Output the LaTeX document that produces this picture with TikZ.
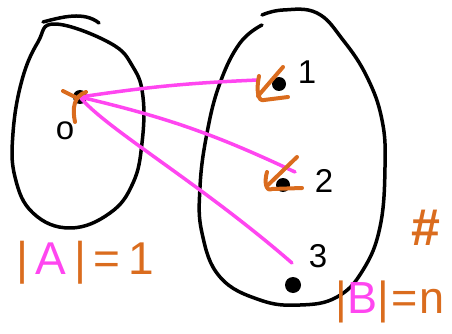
\documentclass[tikz,border=0pt]{standalone}
\usepackage{fontspec}
\setmainfont{Liberation Sans}
\definecolor{mag}{RGB}{255,70,240}
\definecolor{orng}{RGB}{218,108,30}

\begin{document}
\begin{tikzpicture}[
    x=1pt, y=-1pt,
    dot/.style={circle, fill=black, inner sep=0pt, minimum size=14pt},
    set/.style={line width=3.5pt, line cap=round, line join=round},
    map/.style={mag, line width=3.5pt, line cap=round},
    tick/.style={orng, line width=4pt, line cap=round, line join=round},
    lbl/.style={font=\fontsize{33}{33}\selectfont, inner sep=0pt},
    big/.style={inner sep=0pt}
]
    \useasboundingbox (0,0) rectangle (452,334);

    % the two sets
    \draw[set] plot[smooth cycle, tension=0.7] coordinates {
        (55,24) (110,43) (133,67) (143,97) (142,143) (133,183) (110,213)
        (70,228) (33,213) (15,177) (13,133) (22,80) (38,42)};
    \draw[set] (43,22) .. controls (62,17) and (84,11) .. (99,23);
    \draw[set] plot[smooth, tension=0.7] coordinates {
        (262,15) (283,10) (317,13) (343,40) (367,77) (382,120) (385,167)
        (380,227) (363,270) (337,297) (300,305) (260,300) (220,277)
        (202,233) (200,187) (207,133) (220,83) (240,43) (262,25)};

    % elements
    \node[dot] (a0) at (80,97) {};
    \node[dot] (b1) at (279,84) {};
    \node[dot] (b2) at (283,185) {};
    \node[dot, minimum size=16pt] (b3) at (293,285) {};

    \node[lbl] (l0) at (65,131) {o};
    \node[lbl] (l1) at (307,72) {1};
    \node[lbl] (l2) at (324,181) {2};
    \node[lbl] (l3) at (318,256) {3};

    % maps
    \coordinate (e1) at (258,80);
    \coordinate (e2) at (295,172);
    \coordinate (e3) at (292,263);
    \draw[map] (a0.center) to[bend left=3] (e1);
    \draw[map] (a0.center) to[bend left=6] (e2);
    \draw[map] (a0.center) .. controls (105,128) and (200,183) .. (e3);

    % orange marks
    \draw[tick] (63,91) -- (77,98);
    \draw[tick] (75,122) .. controls (72,108) and (74,96) .. (86,92);
    \draw[tick] (283,67) -- (258,96);
    \draw[tick] (259,76) .. controls (256,90) and (258,102) .. (264,100) -- (288,97);
    \draw[tick] (297,157) -- (268,185);
    \draw[tick] (267,172) .. controls (264,182) and (266,192) .. (272,189) -- (302,188);

    % sizes
    \node[big, font=\fontsize{46}{46}\selectfont] (sa) at (85,263)
        {\textcolor{orng}{|\,}\textcolor{mag}{A}\textcolor{orng}{\,|\,=\,1}};
    \node[big, font=\fontsize{45}{45}\selectfont] (sb) at (390,302)
        {\textcolor{orng}{|}\textcolor{mag}{B}\textcolor{orng}{|\kern2pt=\kern2pt n}};
    \node[big, font=\fontsize{52}{52}\bfseries\selectfont] (hs) at (426,228)
        {\textcolor{orng}{\#}};
\end{tikzpicture}
\end{document}
